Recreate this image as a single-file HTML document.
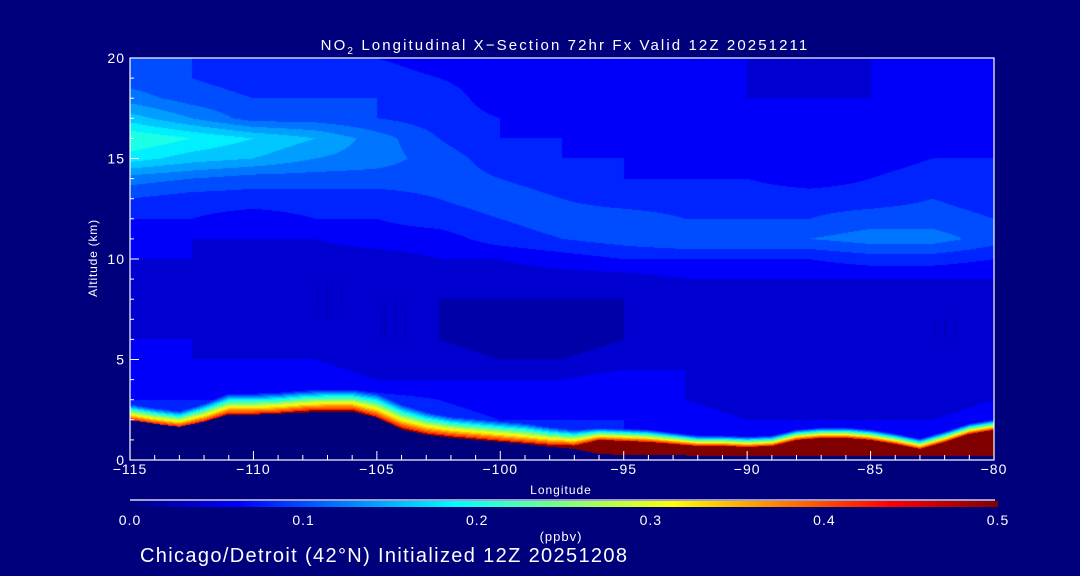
<!DOCTYPE html>
<html><head><meta charset="utf-8">
<style>
html,body{margin:0;padding:0;background:#00007c;width:1080px;height:576px;overflow:hidden;}
svg text{font-family:"Liberation Sans",sans-serif;fill:#fff;}
</style></head>
<body>
<svg width="1080" height="576" xmlns="http://www.w3.org/2000/svg" style="position:absolute;left:0;top:0">
<rect x="0" y="0" width="1080" height="576" fill="#00007c"/>
<foreignObject x="130" y="58" width="864" height="402">
<canvas xmlns="http://www.w3.org/1999/xhtml" id="fld" width="864" height="402" style="display:block"></canvas>
</foreignObject>
<g id="axes"></g>
<text x="565" y="50" font-size="15" letter-spacing="2.1" text-anchor="middle">NO<tspan font-size="10" dy="4">2</tspan><tspan dy="-4"> Longitudinal X−Section 72hr  Fx Valid 12Z 20251211</tspan></text>
<text x="561" y="494" font-size="12" letter-spacing="1" text-anchor="middle">Longitude</text>
<text x="97" y="258" font-size="12" letter-spacing="0.8" text-anchor="middle" transform="rotate(-90 97 258)">Altitude (km)</text>
<defs><linearGradient id="jet" x1="0" x2="1" y1="0" y2="0">
<stop offset="0" stop-color="#000080"/><stop offset="0.125" stop-color="#0000ff"/><stop offset="0.375" stop-color="#00ffff"/><stop offset="0.625" stop-color="#ffff00"/><stop offset="0.875" stop-color="#ff0000"/><stop offset="1" stop-color="#800000"/></linearGradient></defs>
<line x1="130" y1="500" x2="995" y2="500" stroke="#fff" stroke-width="1.2"/>
<rect x="130" y="501" width="868" height="6" fill="url(#jet)"/>
<g id="cbl"></g>
<text x="561" y="541" font-size="13" letter-spacing="1" text-anchor="middle">(ppbv)</text>
<text x="140" y="562" font-size="20" letter-spacing="1.35">Chicago/Detroit (42°N) Initialized 12Z 20251208</text>
</svg>
<script>
const lons=[-115,-112.5,-110,-107.5,-105,-102.5,-100,-97.5,-95,-92.5,-90,-87.5,-85,-82.5,-80];
const alts=[0,1,2,3,4,5,6,7,8,9,10,11,12,13,14,15,16,17,18,19,20];
const no2=[
[.08,.08,.08,.08,.09,.08,.07,.07,.07,.06,.05,.05,.05,.05,.06],
[.08,.08,.08,.08,.09,.08,.07,.07,.07,.06,.05,.05,.05,.05,.06],
[.08,.08,.08,.08,.09,.08,.07,.07,.07,.06,.05,.05,.05,.05,.06],
[.07,.07,.07,.08,.08,.07,.06,.06,.06,.05,.04,.04,.04,.04,.05],
[.06,.06,.06,.06,.05,.05,.05,.05,.06,.05,.04,.04,.04,.04,.04],
[.05,.05,.05,.05,.04,.04,.03,.03,.04,.05,.04,.04,.04,.04,.04],
[.05,.05,.04,.04,.03,.03,.02,.02,.03,.04,.04,.04,.04,.03,.03],
[.05,.04,.04,.03,.03,.03,.02,.02,.03,.04,.04,.04,.04,.03,.03],
[.05,.04,.04,.03,.03,.03,.03,.03,.03,.04,.04,.04,.04,.04,.04],
[.05,.04,.04,.03,.03,.04,.04,.04,.04,.05,.05,.05,.05,.05,.05],
[.05,.05,.04,.04,.04,.05,.05,.06,.07,.07,.07,.07,.08,.08,.07],
[.06,.05,.05,.05,.06,.06,.08,.09,.10,.11,.11,.11,.12,.12,.10],
[.07,.07,.06,.07,.07,.08,.09,.10,.10,.09,.09,.09,.10,.10,.09],
[.09,.08,.08,.08,.08,.09,.10,.09,.08,.08,.08,.08,.08,.09,.08],
[.12,.11,.10,.10,.10,.10,.09,.08,.07,.07,.07,.06,.07,.08,.07],
[.18,.16,.15,.13,.12,.10,.08,.07,.07,.06,.06,.06,.06,.07,.07],
[.21,.19,.17,.15,.12,.09,.07,.07,.06,.06,.06,.06,.06,.06,.06],
[.16,.13,.10,.10,.09,.08,.07,.06,.06,.06,.05,.05,.05,.06,.06],
[.12,.10,.09,.09,.09,.08,.06,.06,.05,.05,.05,.05,.05,.06,.06],
[.10,.09,.08,.08,.08,.07,.06,.05,.05,.05,.05,.04,.05,.06,.06],
[.10,.09,.08,.08,.07,.06,.06,.05,.05,.05,.05,.04,.05,.05,.05]];
const sfcLons=[-115,-114,-113,-112,-111,-110,-109,-108,-107,-106,-105,-104,-103,-102,-101,-100,-99,-98,-97,-96,-95,-94,-93,-92,-91,-90,-89,-88,-87,-86,-85,-84,-83,-82,-81,-80];
const ground=[2.0,1.8,1.65,1.9,2.25,2.25,2.3,2.35,2.4,2.4,2.1,1.5,1.25,1.1,1.0,0.9,0.8,0.65,0.55,0.3,0.25,0.25,0.25,0.2,0.2,0.2,0.2,0.2,0.2,0.2,0.2,0.2,0.2,0.2,0.2,0.2];
const redTop=[2.0,1.8,1.65,1.92,2.3,2.3,2.35,2.45,2.5,2.5,2.15,1.6,1.32,1.18,1.07,0.96,0.86,0.76,0.72,1.0,0.95,0.9,0.8,0.7,0.7,0.65,0.7,1.0,1.1,1.1,1.0,0.8,0.55,0.9,1.3,1.5];
const blWidth=[0.8,0.8,0.8,0.9,1.0,1.0,1.0,1.0,1.0,1.0,1.2,1.2,1.1,1.0,1.0,1.0,1.0,0.9,0.8,0.6,0.6,0.6,0.55,0.5,0.5,0.5,0.5,0.5,0.5,0.5,0.5,0.5,0.5,0.5,0.5,0.5];
const cbTicks=[0.0,0.1,0.2,0.3,0.4,0.5];
const xTicks=[-115,-110,-105,-100,-95,-90,-85,-80];
const yTicks=[0,5,10,15,20];

const X0=130,X1=994,Y0=460,Y1=58;
const xs=l=>X0+(l+115)/35*(X1-X0);
const ys=a=>Y0-a/20*(Y0-Y1);
function interp1(arrX,arrY,x){if(x<=arrX[0])return arrY[0];for(let i=1;i<arrX.length;i++){if(x<=arrX[i]){const t=(x-arrX[i-1])/(arrX[i]-arrX[i-1]);return arrY[i-1]+t*(arrY[i]-arrY[i-1]);}}return arrY[arrY.length-1];}
function upper(l,a){let i=Math.min(13,Math.max(0,Math.floor((l+115)/2.5)));let tx=(l-lons[i])/2.5;let j=Math.min(19,Math.max(0,Math.floor(a)));let ty=a-alts[j];
const v00=no2[j][i],v01=no2[j][i+1],v10=no2[j+1][i],v11=no2[j+1][i+1];
return (v00*(1-tx)+v01*tx)*(1-ty)+(v10*(1-tx)+v11*tx)*ty;}
function jet(v){let t=Math.max(0,Math.min(1,v/0.5));t=Math.round(t*25)/25;const c=x=>Math.round(255*Math.max(0,Math.min(1,x)));return [c(1.5-Math.abs(4*t-3)),c(1.5-Math.abs(4*t-2)),c(1.5-Math.abs(4*t-1))];}
const cv=document.getElementById('fld');const ctx=cv.getContext('2d');
const W=cv.width,H=cv.height;const img=ctx.createImageData(W,H);
for(let px=0;px<W;px++){const l=-115+(px+0.5)/W*35;const g=interp1(sfcLons,ground,l);const rt=interp1(sfcLons,redTop,l);
 const tw=interp1(sfcLons,blWidth,l);
 for(let py=0;py<H;py++){const a=(H-py-0.5)/H*20;const k=(py*W+px)*4;let col;
  if(a<g){col=[0,0,124];}
  else{let v=upper(l,a);if(a<rt){v=0.5;}else{const d=(a-rt)/tw;if(d<1){v=Math.max(v,0.43-0.36*d);}}
  col=jet(v);}
  img.data[k]=col[0];img.data[k+1]=col[1];img.data[k+2]=col[2];img.data[k+3]=255;}}
ctx.putImageData(img,0,0);

const NS='http://www.w3.org/2000/svg';
const ax=document.getElementById('axes');
function mk(tag,attrs,parent){const e=document.createElementNS(NS,tag);for(const k in attrs)e.setAttribute(k,attrs[k]);(parent||ax).appendChild(e);return e;}
const frame=mk('rect',{x:X0,y:Y1,width:X1-X0,height:Y0-Y1,fill:'none',stroke:'#fff','stroke-width':1.2});


for(let l=-115;l<=-80;l++){const major=xTicks.includes(l);const t=mk('line',{x1:xs(l),x2:xs(l),y1:Y0,y2:Y0-(major?9:5),stroke:'#fff','stroke-width':1});

}
xTicks.forEach(l=>{const t=mk('text',{x:xs(l),y:Y0+14,'font-size':14,'letter-spacing':1,'text-anchor':'middle'});t.textContent=(l<0?'−':'')+Math.abs(l);

});
for(let a=0;a<=20;a++){const major=yTicks.includes(a);const t=mk('line',{x1:X0,x2:X0+(major?9:4),y1:ys(a),y2:ys(a),stroke:'#fff','stroke-width':1});

}
yTicks.forEach(a=>{const t=mk('text',{x:X0-5,y:ys(a)+5,'font-size':14,'letter-spacing':1,'text-anchor':'end'});t.textContent=a;

});
const cbl=document.getElementById('cbl');
cbTicks.forEach(v=>{const t=mk('text',{x:130+v/0.5*868,y:525,'font-size':14,'letter-spacing':1,'text-anchor':'middle'},cbl);t.textContent=v.toFixed(1);

});
</script>
</body></html>
